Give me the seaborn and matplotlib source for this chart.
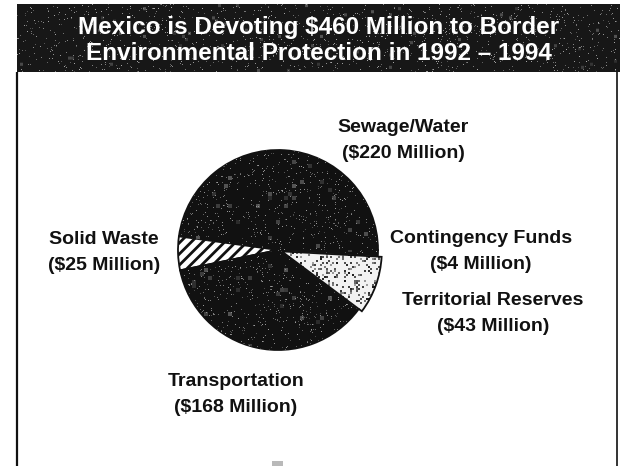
import numpy as np
import pandas as pd
import matplotlib
matplotlib.use("Agg")
import matplotlib.pyplot as plt
import seaborn as sns
from matplotlib.patches import Rectangle

# Mexico's border environmental budget, 1992-1994 (millions of US dollars)
categories = ["Sewage/Water", "Solid Waste", "Transportation",
              "Territorial Reserves", "Contingency Funds"]
amounts = [220, 25, 168, 43, 4]
amount_labels = ["($220 Million)", "($25 Million)", "($168 Million)",
                 "($43 Million)", "($4 Million)"]
title_lines = ["Mexico is Devoting $460 Million to Border",
               "Environmental Protection in 1992 \u2013 1994"]

budget = pd.DataFrame({"category": categories, "amount": amounts,
                       "label": amount_labels})

sns.set_theme(style="white")
plt.rcParams["font.family"] = ["Liberation Sans", "DejaVu Sans"]
plt.rcParams["hatch.linewidth"] = 2.0

W, H = 620, 466
INK = "#111111"
fig = plt.figure(figsize=(W / 100, H / 100), dpi=100)
fig.patch.set_facecolor("white")

# page layer, in pixel coordinates (y grows downward)
page = fig.add_axes([0, 0, 1, 1], zorder=0)
page.set_axis_off()

grain = np.random.default_rng(1994)  # printed-halftone grain


def speckle(shape, threshold, block):
    h, w = shape
    base = grain.random((max(h // block, 1), max(w // block, 1)))
    a = np.where(base > threshold, grain.uniform(0.35, 0.95, base.shape), 0.0)
    return np.kron(a, np.ones((block, block)))


def rgba(alpha, level):
    img = np.zeros(alpha.shape + (4,))
    img[..., :3] = level
    img[..., 3] = alpha
    return img


# title banner
banner = Rectangle((17, 4), 603, 68, facecolor="#171717", edgecolor="none", zorder=1)
page.add_patch(banner)
for thr, blk, lvl, amp in [(0.97, 1, 0.85, 0.8), (0.985, 3, 0.6, 0.5)]:
    im = page.imshow(rgba(speckle((68, 603), thr, blk) * amp, lvl),
                     extent=(17, 620, 72, 4), interpolation="bilinear", zorder=2)
    im.set_clip_path(banner)

for k, line in enumerate(title_lines):
    page.text(319, 34 + 26 * k, line, color="white", fontsize=17.5,
              fontweight="bold", ha="center", va="baseline", zorder=3,
              parse_math=False)

# frame below the banner
page.plot([17, 17], [72, H], color=INK, lw=1.6, solid_capstyle="butt")
page.plot([617, 617], [72, H], color=INK, lw=1.2, solid_capstyle="butt")
page.add_patch(Rectangle((272, 461), 11, 5, facecolor="#b9b9b9", edgecolor="none"))

# pie
pie_ax = fig.add_axes([148 / W, 1 - 380 / H, 260 / W, 260 / H], zorder=1)
pie_ax.set_facecolor("none")
colors = [INK, "white", INK, "#f2f2f2", INK]
explode = [0, 0, 0, 0.04, 0]
wedges, _ = pie_ax.pie(budget["amount"], colors=colors, explode=explode,
                       startangle=0, counterclock=True,
                       wedgeprops=dict(edgecolor=INK, linewidth=1.3))
wedges[1].set_hatch("///")

ext = (-1.3, 1.3, -1.3, 1.3)
for w in (wedges[0], wedges[2], wedges[4]):
    for thr, blk, lvl, amp, interp in [(0.965, 1, 0.8, 0.8, "nearest"),
                                       (0.975, 4, 0.55, 0.6, "bilinear")]:
        im = pie_ax.imshow(rgba(speckle((260, 260), thr, blk) * amp, lvl),
                           extent=ext, interpolation=interp, zorder=3)
        im.set_clip_path(w)

im = pie_ax.imshow(rgba(speckle((260, 260), 0.8, 2), 0.05), extent=ext,
                   interpolation="bilinear", zorder=3)
im.set_clip_path(wedges[3])

pie_ax.set_xlim(-1.3, 1.3)
pie_ax.set_ylim(-1.3, 1.3)
pie_ax.set_aspect("equal")
pie_ax.set_axis_off()

# slice labels: name on top, amount below
label_xy = {
    "Sewage/Water": (403, 132),
    "Solid Waste": (104, 244),
    "Transportation": (236, 386),
    "Territorial Reserves": (493, 305),
    "Contingency Funds": (481, 243),
}
for cat, lab in zip(budget["category"], budget["label"]):
    x, y = label_xy[cat]
    for dy, txt in [(0, cat), (26, lab)]:
        page.text(x, y + dy, txt, color=INK, fontsize=14, fontweight="bold",
                  ha="center", va="baseline", parse_math=False)

page.set_xlim(0, W)
page.set_ylim(H, 0)
page.set_aspect("auto")

fig.savefig("out.png", dpi=100)
